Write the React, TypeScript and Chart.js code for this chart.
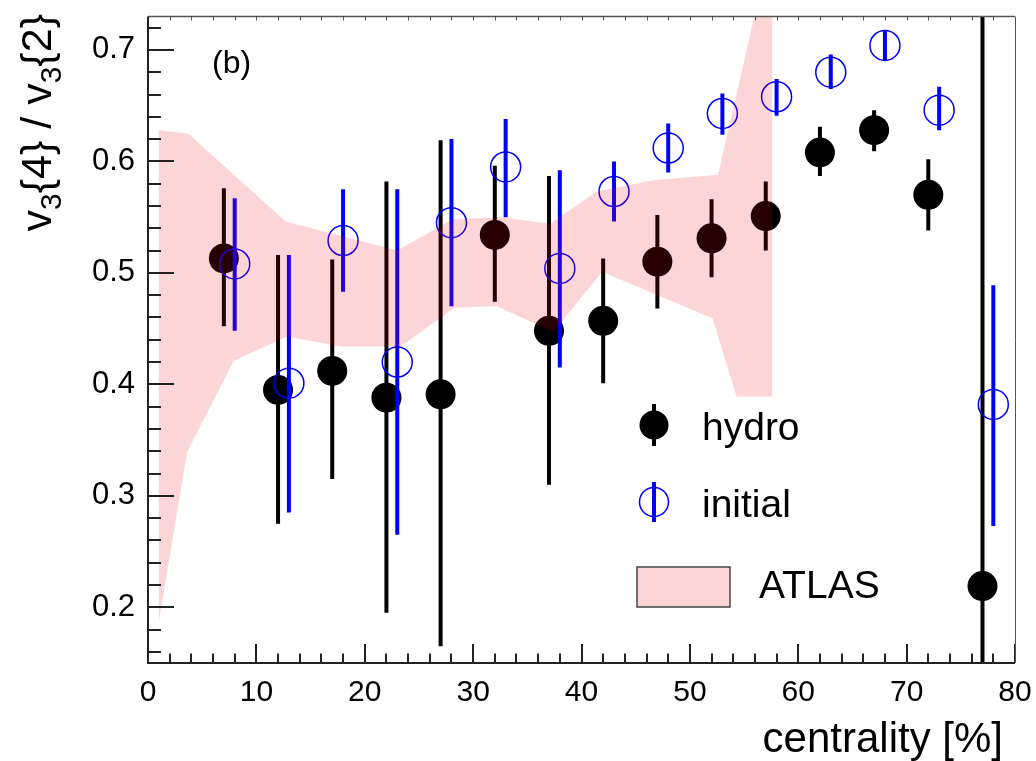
import React, { useEffect, useRef } from "react";
import { Chart, registerables } from "chart.js";

Chart.register(...registerables);

// hydro: filled markers
const hydroX = [7, 12, 17, 22, 27, 32, 37, 42, 47, 52, 57, 62, 67, 72, 77];
const hydroY = [0.513, 0.395, 0.412, 0.388, 0.391, 0.534, 0.448, 0.457, 0.510, 0.531, 0.551, 0.608, 0.628, 0.570, 0.219];
const hydroLow = [0.452, 0.275, 0.315, 0.195, 0.165, 0.474, 0.310, 0.401, 0.468, 0.496, 0.520, 0.587, 0.609, 0.538, -0.5];
const hydroHigh = [0.576, 0.516, 0.512, 0.582, 0.619, 0.596, 0.587, 0.513, 0.552, 0.566, 0.582, 0.631, 0.646, 0.602, 1.5];

// initial: open markers
const initX = [8, 13, 18, 23, 28, 33, 38, 43, 48, 53, 58, 63, 68, 73, 78];
const initY = [0.508, 0.401, 0.529, 0.420, 0.545, 0.595, 0.504, 0.573, 0.612, 0.643, 0.658, 0.680, 0.704, 0.646, 0.382];
const initLow = [0.448, 0.285, 0.483, 0.265, 0.470, 0.550, 0.415, 0.546, 0.590, 0.624, 0.641, 0.665, 0.691, 0.628, 0.273];
const initHigh = [0.567, 0.516, 0.575, 0.575, 0.620, 0.638, 0.592, 0.600, 0.634, 0.661, 0.674, 0.696, 0.717, 0.667, 0.489];

// ATLAS band edges
const bandUpperX = [1.0, 3.7, 12.7, 23.0, 28.1, 32.6, 37.1, 41.4, 46.6, 52.6, 57.6];
const bandUpperY = [0.628, 0.625, 0.546, 0.520, 0.548, 0.550, 0.544, 0.573, 0.583, 0.588, 0.800];
const bandLowerX = [1.0, 3.6, 7.9, 12.8, 17.8, 23.3, 28.3, 32.2, 37.4, 41.9, 52.1, 54.3, 57.6];
const bandLowerY = [0.187, 0.339, 0.421, 0.443, 0.434, 0.434, 0.469, 0.470, 0.447, 0.501, 0.459, 0.389, 0.389];

// axis ticks
const xTicks = [0, 10, 20, 30, 40, 50, 60, 70, 80];
const yTicks = [0.2, 0.3, 0.4, 0.5, 0.6, 0.7];

const FONT = "'Liberation Sans', Arial, Helvetica, sans-serif";
const BAND_FILL = "rgba(235, 0, 0, 0.16)";
const BLUE = "#0000ff";

const errorBarPlugin = {
  id: "errorBars",
  afterDatasetDraw(chart: any, args: any) {
    const sets = [
      { low: hydroLow, high: hydroHigh, color: "#000000" },
      { low: initLow, high: initHigh, color: BLUE },
    ];
    const s = sets[args.index];
    if (!s) return;
    const { ctx, chartArea } = chart;
    const y = chart.scales.y;
    ctx.save();
    ctx.beginPath();
    ctx.rect(chartArea.left, chartArea.top, chartArea.right - chartArea.left, chartArea.bottom - chartArea.top);
    ctx.clip();
    ctx.strokeStyle = s.color;
    ctx.lineWidth = 4;
    ctx.lineCap = "butt";
    args.meta.data.forEach((pt: any, i: number) => {
      ctx.beginPath();
      ctx.moveTo(pt.x, y.getPixelForValue(s.low[i]));
      ctx.lineTo(pt.x, y.getPixelForValue(s.high[i]));
      ctx.stroke();
    });
    ctx.restore();
  },
};

const bandPlugin = {
  id: "atlasBand",
  afterDatasetsDraw(chart: any) {
    const { ctx, chartArea } = chart;
    const xs = chart.scales.x;
    const ys = chart.scales.y;
    ctx.save();
    ctx.beginPath();
    ctx.rect(chartArea.left, chartArea.top, chartArea.right - chartArea.left, chartArea.bottom - chartArea.top);
    ctx.clip();
    ctx.beginPath();
    bandUpperX.forEach((v, i) => {
      const px = xs.getPixelForValue(v);
      const py = ys.getPixelForValue(bandUpperY[i]);
      if (i === 0) ctx.moveTo(px, py);
      else ctx.lineTo(px, py);
    });
    for (let i = bandLowerX.length - 1; i >= 0; i--) {
      ctx.lineTo(xs.getPixelForValue(bandLowerX[i]), ys.getPixelForValue(bandLowerY[i]));
    }
    ctx.closePath();
    ctx.fillStyle = BAND_FILL;
    ctx.fill();
    ctx.restore();
  },
};

const framePlugin = {
  id: "frameAndLabels",
  afterDraw(chart: any) {
    const { ctx, chartArea } = chart;
    const xs = chart.scales.x;
    const ys = chart.scales.y;
    const { left, right, top, bottom } = chartArea;
    ctx.save();

    // ticks
    ctx.strokeStyle = "#222";
    ctx.lineWidth = 2;
    const yMajorLen = 26;
    const xMajorLen = 19;
    for (let v = 0.16; v <= 0.7201; v += 0.02) {
      const py = Math.round(ys.getPixelForValue(v));
      const isMajor = yTicks.some((t) => Math.abs(t - v) < 1e-6);
      ctx.beginPath();
      ctx.moveTo(left, py);
      ctx.lineTo(left + (isMajor ? yMajorLen : yMajorLen / 2), py);
      ctx.stroke();
    }
    for (let v = 0; v <= 80; v += 2) {
      const px = Math.round(xs.getPixelForValue(v));
      const isMajor = xTicks.includes(v);
      ctx.beginPath();
      ctx.moveTo(px, bottom);
      ctx.lineTo(px, bottom - (isMajor ? xMajorLen : xMajorLen / 2));
      ctx.stroke();
    }
    ctx.lineWidth = 1;
    ctx.strokeStyle = "#555";
    for (let v = 2; v < 80; v += 2) {
      const px = Math.round(xs.getPixelForValue(v)) + 0.5;
      ctx.beginPath();
      ctx.moveTo(px, top);
      ctx.lineTo(px, top + 4);
      ctx.stroke();
    }

    // frame
    ctx.strokeStyle = "#555";
    ctx.lineWidth = 1.5;
    ctx.beginPath();
    ctx.moveTo(left, top);
    ctx.lineTo(right, top);
    ctx.stroke();
    ctx.lineWidth = 1;
    ctx.beginPath();
    ctx.moveTo(right + 0.5, top);
    ctx.lineTo(right + 0.5, bottom);
    ctx.stroke();
    ctx.strokeStyle = "#222";
    ctx.lineWidth = 2;
    ctx.beginPath();
    ctx.moveTo(left, top);
    ctx.lineTo(left, bottom);
    ctx.lineTo(right, bottom);
    ctx.stroke();

    // x title
    ctx.fillStyle = "#000";
    ctx.font = `42px ${FONT}`;
    ctx.textAlign = "right";
    ctx.textBaseline = "alphabetic";
    ctx.fillText("centrality [%]", 1003, 752);

    // y title: v3{4} / v3{2}, rotated, aligned to the top end
    const big = `43px ${FONT}`;
    const small = `30px ${FONT}`;
    const parts: [string, boolean][] = [
      ["v", false],
      ["3", true],
      ["{4} / v", false],
      ["3", true],
      ["{2}", false],
    ];
    let total = 0;
    const widths = parts.map(([t, sub]) => {
      ctx.font = sub ? small : big;
      const w = ctx.measureText(t).width;
      total += w;
      return w;
    });
    ctx.save();
    ctx.translate(51, 14 + total);
    ctx.rotate(-Math.PI / 2);
    ctx.textAlign = "left";
    let off = 0;
    parts.forEach(([t, sub], i) => {
      ctx.font = sub ? small : big;
      ctx.fillText(t, off, sub ? 10 : 0);
      off += widths[i];
    });
    ctx.restore();

    // panel label
    ctx.font = `32px ${FONT}`;
    ctx.textAlign = "left";
    ctx.fillText("(b)", 212, 73);

    // legend
    ctx.font = `39px ${FONT}`;
    ctx.fillStyle = "#000";
    ctx.strokeStyle = "#000";
    ctx.lineWidth = 4;
    ctx.beginPath();
    ctx.moveTo(654, 404);
    ctx.lineTo(654, 446);
    ctx.stroke();
    ctx.beginPath();
    ctx.arc(654, 425, 14.5, 0, Math.PI * 2);
    ctx.fill();
    ctx.fillText("hydro", 702, 440);

    ctx.strokeStyle = BLUE;
    ctx.lineWidth = 1.5;
    ctx.beginPath();
    ctx.arc(654, 502, 14.5, 0, Math.PI * 2);
    ctx.stroke();
    ctx.lineWidth = 4;
    ctx.beginPath();
    ctx.moveTo(654, 482);
    ctx.lineTo(654, 522);
    ctx.stroke();
    ctx.fillText("initial", 702, 517);

    ctx.fillStyle = "rgb(252, 214, 214)";
    ctx.fillRect(637, 567, 93, 40);
    ctx.strokeStyle = "#444";
    ctx.lineWidth = 1.5;
    ctx.strokeRect(637, 567, 93, 40);
    ctx.fillStyle = "#000";
    ctx.fillText("ATLAS", 759, 598);

    ctx.restore();
  },
};

export default function App() {
  const canvasRef = useRef<HTMLCanvasElement | null>(null);

  useEffect(() => {
    const canvas = canvasRef.current;
    if (!canvas) return;
    const chart = new Chart(canvas, {
      type: "scatter",
      data: {
        datasets: [
          {
            label: "hydro",
            data: hydroX.map((x, i) => ({ x, y: hydroY[i] })),
            pointRadius: 15,
            pointBackgroundColor: "#000000",
            pointBorderWidth: 0,
            pointBorderColor: "#000000",
            showLine: false,
            order: 1,
            clip: false as any,
          },
          {
            label: "initial",
            data: initX.map((x, i) => ({ x, y: initY[i] })),
            pointRadius: 15,
            pointBackgroundColor: "rgba(0,0,0,0)",
            pointBorderColor: BLUE,
            pointBorderWidth: 1.5,
            showLine: false,
            order: 0,
            clip: false as any,
          },
        ],
      },
      options: {
        responsive: false,
        animation: false,
        devicePixelRatio: 1,
        layout: { padding: { top: 13, right: 21, left: 0, bottom: 0 } },
        plugins: {
          legend: { display: false },
          tooltip: { enabled: false },
        },
        scales: {
          x: {
            type: "linear",
            min: 0,
            max: 80,
            afterBuildTicks: (s: any) => {
              s.ticks = xTicks.map((v) => ({ value: v }));
            },
            afterFit: (s: any) => {
              s.height = 98;
              s.paddingLeft = 0;
              s.paddingRight = 0;
              s.paddingTop = 0;
              s.paddingBottom = 0;
            },
            grid: { display: false, drawTicks: false },
            border: { display: false },
            ticks: {
              autoSkip: false,
              maxRotation: 0,
              padding: 12,
              color: "#000",
              font: { family: FONT, size: 30 },
              callback: (v: any) => String(v),
            },
          },
          y: {
            type: "linear",
            min: 0.15,
            max: 0.73,
            afterBuildTicks: (s: any) => {
              s.ticks = yTicks.map((v) => ({ value: v }));
            },
            afterFit: (s: any) => {
              s.width = 148;
              s.paddingLeft = 0;
              s.paddingRight = 0;
              s.paddingTop = 0;
              s.paddingBottom = 0;
            },
            grid: { display: false, drawTicks: false },
            border: { display: false },
            ticks: {
              autoSkip: false,
              padding: 13,
              color: "#000",
              font: { family: FONT, size: 31 },
              callback: (v: any) => Number(v).toFixed(1),
            },
          },
        },
      },
      plugins: [errorBarPlugin, bandPlugin, framePlugin],
    });
    return () => chart.destroy();
  }, []);

  return (
    <div style={{ position: "absolute", left: 0, top: 0, width: 1036, height: 761, background: "#fff" }}>
      <canvas ref={canvasRef} width={1036} height={761} style={{ display: "block" }} />
    </div>
  );
}
